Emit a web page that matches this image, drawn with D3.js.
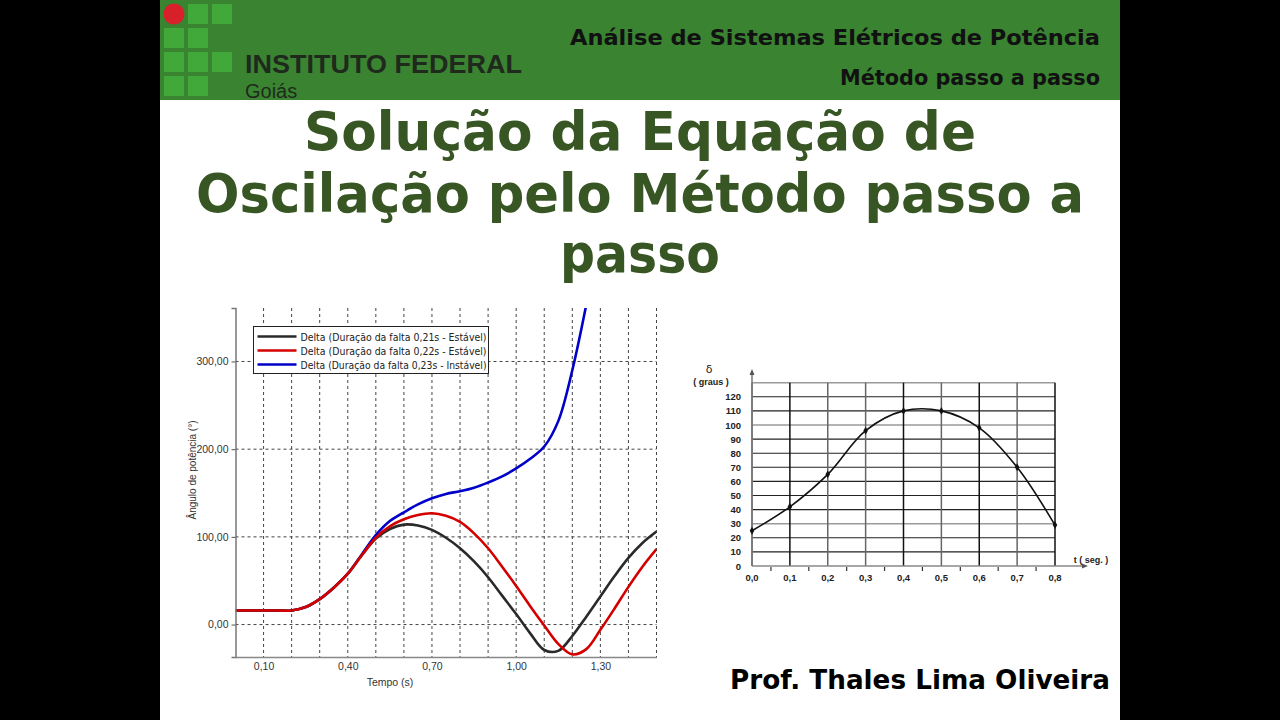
<!DOCTYPE html>
<html><head><meta charset="utf-8">
<script src="https://cdn.jsdelivr.net/npm/d3@7"></script>
<style>html,body{margin:0;padding:0;background:#000;}svg{display:block;}</style>
</head><body>
<script>
// ---------- DATA ----------
const headerTitle = "Análise de Sistemas Elétricos de Potência";
const headerSub = "Método passo a passo";
const titleLines = ["Solução da Equação de", "Oscilação pelo Método passo a", "passo"];
const author = "Prof. Thales Lima Oliveira";

// Left chart (simulation)
const timeL = [0,0.05,0.1,0.15,0.2,0.25,0.3,0.35,0.4,0.45,0.5,0.55,0.6,0.65,0.7,0.75,0.8,0.85,0.9,0.95,1.0,1.05,1.1,1.15,1.2,1.25,1.3,1.35,1.4,1.45,1.5];
const delta021 = [16,16,16,16,16,20,29,42,58,79,98,109,114,113,108,99,87,72,54,33,12,-10,-29,-30,-13,9,32,55,76,93,106];
const delta022 = [16,16,16,16,16,20,29,42,58,79,99,112,120,125,127,124,117,104,87,66,44,21,-1,-22,-34,-28,-6,18,43,66,86];
const delta023 = [16,16,16,16,16,20,29,42,58,80,102,118,128,137,144,149,152,156,162,169,178,189,203,232,290,365,450];
const seriesNames = ["Delta (Duração da falta 0,21s - Estável)","Delta (Duração da falta 0,22s - Estável)","Delta (Duração da falta 0,23s - Instável)"];
const seriesColors = ["#2a2a2a","#d40000","#0000c8"];
const xTicksL = [0.1,0.4,0.7,1.0,1.3];
const yTicksL = [0,100,200,300];
const xGridL = [0.1,0.2,0.3,0.4,0.5,0.6,0.7,0.8,0.9,1.0,1.1,1.2,1.3,1.4,1.5];

// Right chart (step-by-step)
const timeR = [0,0.1,0.2,0.3,0.4,0.5,0.6,0.7,0.8];
const deltaR = [25,42,65,96,110,110,98,70,29];
const yTicksR = [0,10,20,30,40,50,60,70,80,90,100,110,120];
const yGridR = [10,20,30,40,50,60,70,80,90,100,110,120,130];
const xMinorR = [0.05,0.15,0.25,0.35,0.45,0.55,0.65,0.75];

// ---------- DRAW ----------
const svg = d3.select("body").append("svg").attr("width",1280).attr("height",720);
svg.append("rect").attr("width",1280).attr("height",720).attr("fill","#000");
svg.append("rect").attr("x",160).attr("y",0).attr("width",960).attr("height",720).attr("fill","#fff");
svg.append("rect").attr("x",160).attr("y",0).attr("width",960).attr("height",100).attr("fill","#3a8331");

// logo grid
const logoCells = [[0,1],[0,2],[1,0],[1,1],[2,0],[2,1],[2,2],[3,0],[3,1]];
svg.selectAll("rect.logo").data(logoCells).join("rect").attr("class","logo")
  .attr("x",d=>164+d[1]*24).attr("y",d=>4+d[0]*24).attr("width",20).attr("height",20)
  .attr("fill","#41a83a");
svg.append("circle").attr("cx",174).attr("cy",14).attr("r",10.5).attr("fill","#d8202a");
svg.append("text").attr("x",245).attr("y",73).attr("font-family","Liberation Sans").attr("font-weight","bold")
  .attr("font-size",26).attr("fill","#1f2a1d").attr("textLength",277).attr("lengthAdjust","spacingAndGlyphs").text("INSTITUTO FEDERAL");
svg.append("text").attr("x",245).attr("y",97.5).attr("font-family","Liberation Sans")
  .attr("font-size",20).attr("fill","#1f2a1d").text("Goiás");

svg.append("text").attr("x",1100).attr("y",45).attr("text-anchor","end").attr("font-family","DejaVu Sans").attr("font-weight","bold")
  .attr("font-size",22).attr("fill","#111").attr("textLength",530).attr("lengthAdjust","spacingAndGlyphs").text(headerTitle);
svg.append("text").attr("x",1100).attr("y",85).attr("text-anchor","end").attr("font-family","DejaVu Sans").attr("font-weight","bold")
  .attr("font-size",21).attr("fill","#111").attr("textLength",260).attr("lengthAdjust","spacingAndGlyphs").text(headerSub);

// title
const titleW = [672,888,160];
const titleY = [150,212,272];
titleLines.forEach((t,i)=>{
  svg.append("text").attr("x",640).attr("y",titleY[i]).attr("text-anchor","middle")
    .attr("font-family","DejaVu Sans").attr("font-weight","bold").attr("font-size",54).attr("fill","#375623")
    .attr("textLength",titleW[i]).attr("lengthAdjust","spacingAndGlyphs").text(t);
});

svg.append("text").attr("x",1110).attr("y",689).attr("text-anchor","end").attr("font-family","DejaVu Sans").attr("font-weight","bold")
  .attr("font-size",26).attr("fill","#000").attr("textLength",380).attr("lengthAdjust","spacingAndGlyphs").text(author);

// ---------- LEFT CHART ----------
const xL = d3.scaleLinear().domain([0,1.5]).range([235.5,656.5]);
const yL = d3.scaleLinear().domain([-37,361]).range([657,308]);
const gL = svg.append("g");
gL.selectAll("line.vg").data(xGridL).join("line").attr("class","vg")
  .attr("x1",d=>xL(d)).attr("x2",d=>xL(d)).attr("y1",yL.range()[1]).attr("y2",yL.range()[0])
  .attr("stroke","#444").attr("stroke-width",1).attr("stroke-dasharray","3,3");
gL.selectAll("line.hg").data(yTicksL).join("line").attr("class","hg")
  .attr("x1",xL.range()[0]).attr("x2",xL.range()[1]).attr("y1",d=>yL(d)).attr("y2",d=>yL(d))
  .attr("stroke","#444").attr("stroke-width",1).attr("stroke-dasharray","3,3");

const clipId = "clipL";
svg.append("defs").append("clipPath").attr("id",clipId).append("rect")
  .attr("x",xL.range()[0]).attr("y",yL.range()[1]).attr("width",xL.range()[1]-xL.range()[0]).attr("height",yL.range()[0]-yL.range()[1]);
const lineL = d3.line().x(d=>xL(d[0])).y(d=>yL(d[1])).curve(d3.curveCatmullRom.alpha(0.5));
const seriesL = [delta021,delta022,delta023];
[2,0,1].forEach(i=>{
  const pts = seriesL[i].map((v,k)=>[timeL[k],v]);
  gL.append("path").attr("d",lineL(pts)).attr("fill","none").attr("stroke",seriesColors[i])
    .attr("stroke-width",2.6).attr("clip-path",`url(#${clipId})`);
});
const fmt = d=>d.toFixed(2).replace(".",",");
const axL = gL.append("g").attr("transform",`translate(${xL.range()[0]},0)`)
  .call(d3.axisLeft(yL).tickValues(yTicksL).tickSize(4).tickFormat(fmt));
axL.select(".domain").attr("stroke","#777").attr("stroke-width",1.5);
axL.selectAll("text").attr("font-family","Liberation Sans").attr("font-size",10.5).attr("fill","#333");
axL.selectAll(".tick line").attr("stroke","#555");
const axB = gL.append("g").attr("transform",`translate(0,${yL.range()[0]})`)
  .call(d3.axisBottom(xL).tickValues(xTicksL).tickSize(0).tickPadding(6).tickFormat(fmt));
axB.select(".domain").attr("stroke","#888").attr("stroke-width",1.5);
axB.selectAll("text").attr("font-family","Liberation Sans").attr("font-size",10.5).attr("fill","#333");
gL.append("text").attr("x",390).attr("y",686).attr("text-anchor","middle").attr("font-family","Liberation Sans")
  .attr("font-size",10.5).attr("fill","#333").text("Tempo (s)");
gL.append("text").attr("transform","translate(196,470) rotate(-90)").attr("text-anchor","middle").attr("font-family","Liberation Sans")
  .attr("font-size",10).attr("fill","#333").text("Ângulo de potência (°)");

// legend
const lg = gL.append("g").attr("transform","translate(253.5,326.5)");
lg.append("rect").attr("width",235).attr("height",47).attr("fill","#fff").attr("stroke","#222").attr("stroke-width",1);
seriesNames.forEach((n,i)=>{
  lg.append("line").attr("x1",4).attr("x2",43).attr("y1",10+i*14).attr("y2",10+i*14).attr("stroke",seriesColors[i]).attr("stroke-width",2.6);
  lg.append("text").attr("x",47).attr("y",14+i*14).attr("font-family","DejaVu Sans").attr("font-size",10.5).attr("fill","#222")
    .attr("textLength",186).attr("lengthAdjust","spacingAndGlyphs").text(n);
});

// ---------- RIGHT CHART ----------
const xR = d3.scaleLinear().domain([0,0.8]).range([752,1055]);
const yR = d3.scaleLinear().domain([0,130]).range([566,382.7]);
const gR = svg.append("g");
const grayH = new Set([130,100,30]);
gR.selectAll("line.hr").data(yGridR).join("line").attr("class","hr")
  .attr("x1",xR(0)).attr("x2",xR(0.8)).attr("y1",d=>yR(d)).attr("y2",d=>yR(d))
  .attr("stroke",d=>grayH.has(d)?"#9a9a9a":"#222").attr("stroke-width",d=>grayH.has(d)?1.6:1.1);
const grayV = new Set([0,2,3,5,7]);
gR.selectAll("line.vr").data(timeR).join("line").attr("class","vr")
  .attr("x1",d=>xR(d)).attr("x2",d=>xR(d)).attr("y1",yR(130)).attr("y2",yR(0))
  .attr("stroke",(d,i)=>grayV.has(i)?"#666":"#111").attr("stroke-width",1.5);
// axes
gR.append("line").attr("x1",xR(0)).attr("x2",1085).attr("y1",yR(0)).attr("y2",yR(0)).attr("stroke","#888").attr("stroke-width",1.5);
gR.append("path").attr("d",`M1088,${yR(0)} l-6,-2.5 l0,5 z`).attr("fill","#555");
gR.append("line").attr("x1",xR(0)).attr("x2",xR(0)).attr("y1",yR(0)).attr("y2",372).attr("stroke","#777").attr("stroke-width",1.5);
gR.append("path").attr("d",`M${xR(0)},369 l-2.5,6 l5,0 z`).attr("fill","#555");
gR.selectAll("line.mt").data(xMinorR).join("line").attr("class","mt")
  .attr("x1",d=>xR(d)).attr("x2",d=>xR(d)).attr("y1",yR(0)+1).attr("y2",yR(0)+5).attr("stroke","#333").attr("stroke-width",1.2);
const fmtR = d=>d.toFixed(1).replace(".",",");
gR.selectAll("text.xr").data(timeR).join("text").attr("class","xr")
  .attr("x",d=>xR(d)).attr("y",581).attr("text-anchor","middle").attr("font-family","Liberation Sans").attr("font-weight","bold")
  .attr("font-size",9.5).attr("fill","#222").text(fmtR);
gR.selectAll("text.yr").data(yTicksR).join("text").attr("class","yr")
  .attr("x",741).attr("y",d=>yR(d)+3.5).attr("text-anchor","end").attr("font-family","Liberation Sans").attr("font-weight","bold")
  .attr("font-size",9.5).attr("fill","#222").text(d=>d);
gR.append("text").attr("x",709).attr("y",373).attr("text-anchor","middle").attr("font-family","DejaVu Sans").attr("font-size",11).attr("fill","#222").text("δ");
gR.append("text").attr("x",711).attr("y",385).attr("text-anchor","middle").attr("font-family","Liberation Sans").attr("font-weight","bold").attr("font-size",9).attr("fill","#222").text("( graus )");
gR.append("text").attr("x",1091).attr("y",563).attr("text-anchor","middle").attr("font-family","Liberation Sans").attr("font-weight","bold").attr("font-size",9).attr("fill","#222").text("t ( seg. )");
const lineR = d3.line().x(d=>xR(d[0])).y(d=>yR(d[1])).curve(d3.curveCatmullRom.alpha(0.5));
const ptsR = deltaR.map((v,k)=>[timeR[k],v]);
gR.append("path").attr("d",lineR(ptsR)).attr("fill","none").attr("stroke","#111").attr("stroke-width",1.6);
gR.selectAll("path.mk").data(ptsR).join("path").attr("class","mk")
  .attr("d",d3.symbol().type(d3.symbolDiamond).size(18)).attr("transform",d=>`translate(${xR(d[0])},${yR(d[1])})`).attr("fill","#111");
</script>
</body></html>
